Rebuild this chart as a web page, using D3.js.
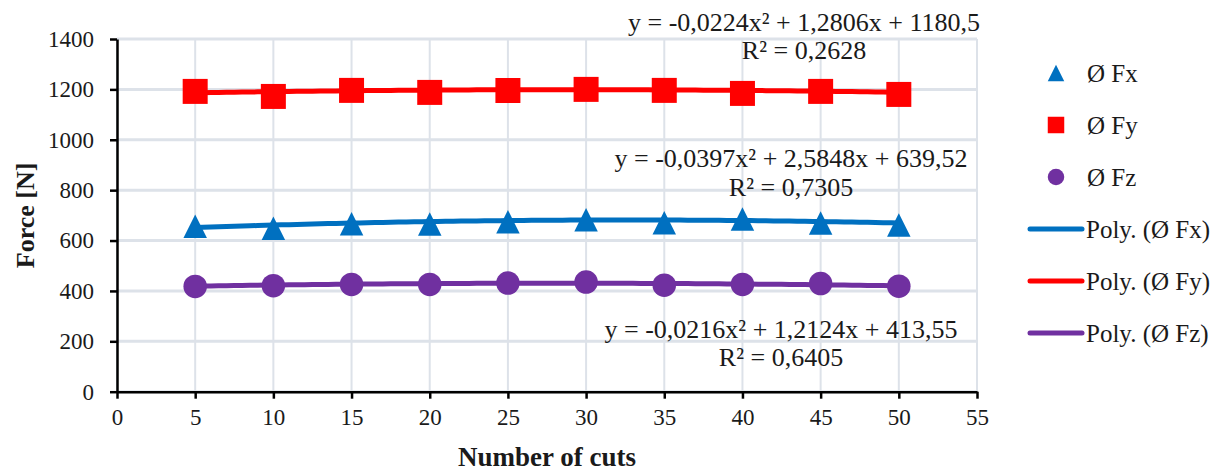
<!DOCTYPE html>
<html>
<head>
<meta charset="utf-8">
<script src="https://cdn.jsdelivr.net/npm/d3@7"></script>
<style>
  html, body { margin: 0; padding: 0; background: #ffffff; }
  svg { display: block; }
  text { font-family: "Liberation Serif", "Times New Roman", serif; fill: #1a1a1a; }
</style>
</head>
<body>
<svg id="chart" width="1226" height="473"></svg>
<script>
// ---- data ----
const cuts = [5, 10, 15, 20, 25, 30, 35, 40, 45, 50];
const fx = [657, 649, 667, 666, 675, 683, 671, 686, 670, 662];
const fy = [1192, 1172, 1196, 1188, 1196, 1200, 1196, 1184, 1192, 1180];
const fz = [418, 421, 426, 426, 431, 435, 423, 426, 429, 419];
const trendFx = [-0.0397, 2.5848, 639.52];
const trendFy = [-0.0224, 1.2806, 1180.5];
const trendFz = [-0.0216, 1.2124, 413.55];
const xTicks = [0, 5, 10, 15, 20, 25, 30, 35, 40, 45, 50, 55];
const yTicks = [0, 200, 400, 600, 800, 1000, 1200, 1400];
const seriesNames = ["Ø Fx", "Ø Fy", "Ø Fz"];
const trendNames = ["Poly. (Ø Fx)", "Poly. (Ø Fy)", "Poly. (Ø Fz)"];
const eqTexts = [
  ["y = -0,0397x² + 2,5848x + 639,52", "R² = 0,7305"],
  ["y = -0,0224x² + 1,2806x + 1180,5", "R² = 0,2628"],
  ["y = -0,0216x² + 1,2124x + 413,55", "R² = 0,6405"]
];
const xTitle = "Number of cuts";
const yTitle = "Force [N]";

// ---- layout ----
const colors = ["#0070C0", "#FF0000", "#7030A0"];
const shapes = ["triangle", "square", "circle"];
const FONT = "Liberation Serif";
const svg = d3.select("#chart");
const x = d3.scaleLinear().domain([0, 55]).range([117, 977]);
const y = d3.scaleLinear().domain([0, 1400]).range([391.7, 39]);

// gridlines
const grid = svg.append("g");
grid.selectAll("line.h").data(yTicks).join("line")
  .attr("x1", x(0)).attr("x2", x(55))
  .attr("y1", d => y(d)).attr("y2", d => y(d))
  .attr("stroke", "#dde2e9").attr("stroke-width", 3);
grid.selectAll("line.v").data(xTicks).join("line")
  .attr("y1", y(0)).attr("y2", y(1400))
  .attr("x1", d => x(d)).attr("x2", d => x(d))
  .attr("stroke", "#dde2e9").attr("stroke-width", 2);

// axes
const fmt = d3.format("d");
const xAxis = svg.append("g").attr("transform", `translate(0,${y(0)})`)
  .call(d3.axisBottom(x).tickValues(xTicks).tickFormat(fmt).tickSize(7).tickPadding(10).tickSizeOuter(0));
const yAxis = svg.append("g").attr("transform", `translate(${x(0)},0)`)
  .call(d3.axisLeft(y).tickValues(yTicks).tickFormat(fmt).tickSize(7).tickPadding(16).tickSizeOuter(0));
[xAxis, yAxis].forEach(a => {
  a.attr("font-family", FONT);
  a.select(".domain").attr("stroke", "#000").attr("stroke-width", 2.5);
  a.selectAll(".tick line").attr("stroke", "#000").attr("stroke-width", 2.5);
  a.selectAll(".tick text").attr("font-size", 23)
    .style("font-family", FONT).attr("fill", "#1a1a1a");
});
xAxis.selectAll(".tick text").attr("dy", "0.71em");

// trendlines
const trends = [trendFx, trendFy, trendFz];
const line = d3.line().x(d => x(d[0])).y(d => y(d[1]));
const xs = d3.range(cuts[0], cuts[cuts.length - 1] + 0.001, 0.5);
trends.forEach((c, i) => {
  const pts = xs.map(v => [v, c[0] * v * v + c[1] * v + c[2]]);
  svg.append("path").attr("d", line(pts)).attr("fill", "none")
    .attr("stroke", colors[i]).attr("stroke-width", 5);
});

// markers
function markerPath(shape, cx, cy, s) {
  const h = s / 2;
  if (shape === "triangle") return `M${cx},${cy - h}L${cx + h},${cy + h}L${cx - h},${cy + h}Z`;
  return `M${cx - h},${cy - h}h${s}v${s}h${-s}Z`;
}
const seriesVals = [fx, fy, fz];
const mSizes = [23.5, 25, 23.5];
seriesVals.forEach((vals, i) => {
  const g = svg.append("g");
  vals.forEach((v, j) => {
    const cx = x(cuts[j]), cy = y(v);
    if (shapes[i] === "circle") {
      g.append("circle").attr("cx", cx).attr("cy", cy).attr("r", mSizes[i] / 2).attr("fill", colors[i]);
    } else {
      g.append("path").attr("d", markerPath(shapes[i], cx, cy, mSizes[i])).attr("fill", colors[i]);
    }
  });
});

// equation labels
const eqPos = [[791, 167, 196], [804, 31, 59], [781, 338, 366]];
eqTexts.forEach((t, i) => {
  svg.append("text").attr("x", eqPos[i][0]).attr("y", eqPos[i][1])
    .attr("text-anchor", "middle").attr("font-size", 26).text(t[0]);
  svg.append("text").attr("x", eqPos[i][0]).attr("y", eqPos[i][2])
    .attr("text-anchor", "middle").attr("font-size", 26).text(t[1]);
});

// axis titles
svg.append("text").attr("x", x(27.5)).attr("y", 466).attr("text-anchor", "middle")
  .attr("font-size", 27).attr("font-weight", "bold").text(xTitle);
svg.append("text").attr("transform", `translate(34,${(y(0) + y(1400)) / 2}) rotate(-90)`)
  .attr("text-anchor", "middle").attr("font-size", 26).attr("font-weight", "bold").text(yTitle);

// legend
const legY = [73, 125, 177, 229, 281, 333];
const leg = svg.append("g");
seriesNames.forEach((n, i) => {
  const cy = legY[i], cx = 1056, s = 16.5;
  if (shapes[i] === "circle") leg.append("circle").attr("cx", cx).attr("cy", cy).attr("r", s / 2).attr("fill", colors[i]);
  else leg.append("path").attr("d", markerPath(shapes[i], cx, cy, s)).attr("fill", colors[i]);
  leg.append("text").attr("x", 1087).attr("y", cy).attr("dy", "0.35em").attr("font-size", 25).text(n);
});
trendNames.forEach((n, i) => {
  const cy = legY[i + 3];
  leg.append("line").attr("x1", 1030).attr("x2", 1082).attr("y1", cy).attr("y2", cy)
    .attr("stroke", colors[i]).attr("stroke-width", 5).attr("stroke-linecap", "round");
  leg.append("text").attr("x", 1086).attr("y", cy).attr("dy", "0.35em").attr("font-size", 25).text(n);
});
</script>
</body>
</html>
